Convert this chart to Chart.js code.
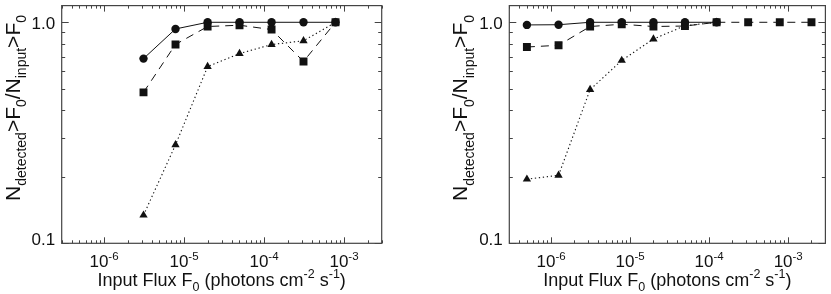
<!DOCTYPE html>
<html><head><meta charset="utf-8">
<script src="https://cdn.jsdelivr.net/npm/chart.js@4"></script>
<style>
html,body{margin:0;padding:0;background:#fff;width:831px;height:294px;overflow:hidden}
.p{position:absolute;top:0;height:294px}
canvas{display:block}
</style></head><body>
<div class="p" style="left:0;width:415px"><canvas id="c1" width="415" height="294"></canvas></div>
<div class="p" style="left:415px;width:416px"><canvas id="c2" width="416" height="294"></canvas></div>
<script>
// ---- data ----
const xLeft = [3.16e-6, 7.94e-6, 2.0e-5, 5.01e-5, 1.26e-4, 3.16e-4, 7.94e-4];
const circlesLeft = [0.685, 0.933, 1.0, 1.0, 1.0, 1.0, 1.0];
const squaresLeft = [0.482, 0.794, 0.957, 0.97, 0.927, 0.665, 1.0];
const trianglesLeft = [0.134, 0.279, 0.63, 0.722, 0.793, 0.825, 1.0];

const xRight = [5.01e-7, 1.26e-6, 3.16e-6, 7.94e-6, 2.0e-5, 5.01e-5, 1.26e-4, 3.16e-4, 7.94e-4, 2.0e-3];
const circlesRight = [0.973, 0.975, 1.0, 1.0, 1.0, 1.0, 1.0];
const squaresRight = [0.773, 0.787, 0.957, 0.98, 0.957, 0.962, 1.0, 1.0, 1.0, 1.0];
const trianglesRight = [0.195, 0.203, 0.496, 0.672, 0.84, 0.965, 1.0];

const xRange = [3.0e-7, 3.0e-3];
const yRange = [0.1, 1.19];
const xTickExps = [-6, -5, -4, -3];
const yTickLabels = ['0.1', '1.0'];
const yTickValues = [0.1, 1.0];

const FONT = '"Liberation Sans", Arial, Helvetica, sans-serif';
const INK = '#111';

function pts(xs, ys){ return ys.map((y,i)=>({x:xs[i], y})); }

function richWidth(ctx, segs, main, small){
  let w=0;
  for(const [t,k] of segs){ ctx.font = (k? small: main)+'px '+FONT; w += ctx.measureText(t).width; }
  return w;
}
function drawRich(ctx, segs, x, y, main, small){
  let cx = x - richWidth(ctx, segs, main, small)/2;
  ctx.textAlign='left'; ctx.textBaseline='alphabetic';
  for(const [t,k] of segs){
    ctx.font = (k? small: main)+'px '+FONT;
    const dy = k===1 ? main*0.3 : (k===2 ? -main*0.42 : 0);
    ctx.fillText(t, cx, y+dy);
    cx += ctx.measureText(t).width;
  }
}

const framePlugin = {
  id:'frame',
  afterDatasetsDraw(chart){
    const ctx = chart.ctx, a = chart.chartArea;
    const xs = chart.scales.x, ys = chart.scales.y;
    ctx.save();
    ctx.strokeStyle = '#444'; ctx.lineWidth = 1.2;
    ctx.strokeRect(a.left, a.top, a.right-a.left, a.bottom-a.top);
    ctx.lineWidth = 1;
    ctx.beginPath();
    for(let n=-7;n<=-2;n++){
      for(let m=1;m<=9;m++){
        const v = m*Math.pow(10,n);
        if(v < xRange[0] || v > xRange[1]) continue;
        const px = Math.round(xs.getPixelForValue(v))+0.5;
        const L = m===1 ? 6 : 3;
        ctx.moveTo(px, a.bottom); ctx.lineTo(px, a.bottom-L);
        ctx.moveTo(px, a.top); ctx.lineTo(px, a.top+L);
      }
    }
    for(let m=1;m<=10;m++){
      const v = m*0.1;
      const py = Math.round(ys.getPixelForValue(v))+0.5;
      const L = (m===1||m===10) ? 7 : 3.5;
      ctx.moveTo(a.left, py); ctx.lineTo(a.left+L, py);
      ctx.moveTo(a.right, py); ctx.lineTo(a.right-L, py);
    }
    ctx.stroke();

    ctx.fillStyle = INK;
    ctx.font = '17px '+FONT; ctx.textAlign='right'; ctx.textBaseline='alphabetic';
    yTickLabels.forEach((lab,i)=>{
      const py = ys.getPixelForValue(yTickValues[i]);
      const off = yTickValues[i] >= 1 ? 7 : 1.7;
      ctx.fillText(lab, a.left-6.5, py+off);
    });
    xTickExps.forEach(e=>{
      const px = xs.getPixelForValue(Math.pow(10,e));
      drawRich(ctx, [['10',0],[String(e),2]], px+0.5, 267, 17, 11.5);
    });
    drawRich(ctx, [['Input Flux F',0],['0',1],[' (photons cm',0],['-2',2],[' s',0],['-1',2],[')',0]],
      (a.left+a.right)/2, 286, 18, 12.5);
    ctx.save();
    ctx.translate(a.left-42, 108);
    ctx.rotate(-Math.PI/2);
    drawRich(ctx, [['N',0],['detected',1],['>F',0],['0',1],['/N',0],['input',1],['>F',0],['0',1]], 0, 0, 21, 14);
    ctx.restore();
    ctx.restore();
  }
};

function makeChart(id, xs, circ, sq, tri, pad){
  new Chart(document.getElementById(id), {
    type:'line',
    data:{datasets:[
      {data:pts(xs, sq), borderColor:'#111', backgroundColor:'#111', borderWidth:1, borderDash:[8,6],
       pointStyle:'rect', pointRadius:5.6, pointBorderWidth:0, tension:0},
      {data:pts(xs, circ), borderColor:'#111', backgroundColor:'#111', borderWidth:1,
       pointStyle:'circle', pointRadius:4.2, pointBorderWidth:0, tension:0},
      {data:pts(xs, tri), borderColor:'#111', backgroundColor:'#111', borderWidth:1.1, borderDash:[1.3,2.7],
       pointStyle:'triangle', pointRadius:4.8, pointBorderWidth:0, tension:0}
    ]},
    options:{
      responsive:false, animation:false, devicePixelRatio:1,
      layout:{padding:pad},
      plugins:{legend:{display:false}, tooltip:{enabled:false}},
      scales:{
        x:{type:'logarithmic', min:xRange[0], max:xRange[1], display:false},
        y:{type:'logarithmic', min:yRange[0], max:yRange[1], display:false}
      }
    },
    plugins:[framePlugin]
  });
}

makeChart('c1', xLeft, circlesLeft, squaresLeft, trianglesLeft, {left:61.7, right:33.3, top:2, bottom:50.7});
makeChart('c2', xRight, circlesRight, squaresRight, trianglesRight, {left:94.3, right:1.7, top:2, bottom:50.7});
</script>
</body></html>
